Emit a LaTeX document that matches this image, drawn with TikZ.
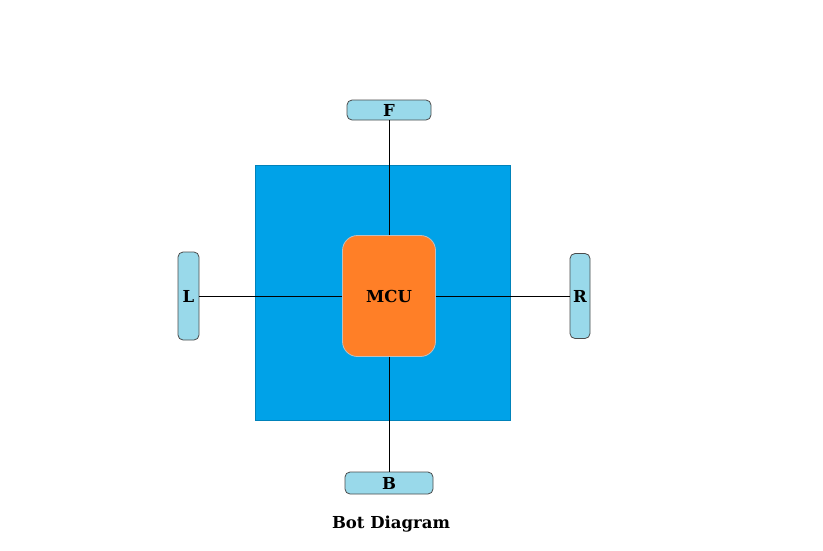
\documentclass[tikz,border=0pt]{standalone}
\usepackage{fontspec}
\setmainfont{DejaVu Serif}
\begin{document}
\begin{tikzpicture}[x=1pt,y=-1pt,line width=0.8pt,
  sensor/.style={draw=black!70,fill=senscol,rounded corners=5pt,line width=0.8pt,inner sep=0pt},
  lbl/.style={font=\fontsize{16.5}{18}\selectfont\bfseries},
  wire/.style={draw=black,line width=0.8pt}]
\definecolor{bodycol}{RGB}{0,162,232}
\definecolor{senscol}{RGB}{153,217,234}
\definecolor{mcucol}{RGB}{255,127,39}
\useasboundingbox[fill=white] (0,0) rectangle (823,550);
% body
\path[fill=bodycol,draw=bodycol!80!black,line width=0.6pt] (255,165) rectangle (510,420);
% sensors
\node[sensor,minimum width=84pt,minimum height=20pt,lbl] (F) at (389,110) {F};
\node[sensor,minimum width=88pt,minimum height=22pt,lbl] (B) at (389,483) {B};
\node[sensor,minimum width=21pt,minimum height=88pt,lbl] (L) at (188.5,296) {L};
\node[sensor,minimum width=20pt,minimum height=85pt,lbl] (R) at (580,296) {R};
% MCU
\node[draw=black!25,fill=mcucol,rounded corners=15pt,minimum width=93pt,minimum height=121pt,inner sep=0pt,lbl,line width=0.8pt] (M) at (389,296) {MCU};
% wires
\draw[wire] (F.south) -- (M.north);
\draw[wire] (M.south) -- (B.north);
\draw[wire] (L.east) -- (M.west);
\draw[wire] (M.east) -- (R.west);
% caption
\node[lbl] (cap) at (391,524) {Bot Diagram};
\end{tikzpicture}
\end{document}
